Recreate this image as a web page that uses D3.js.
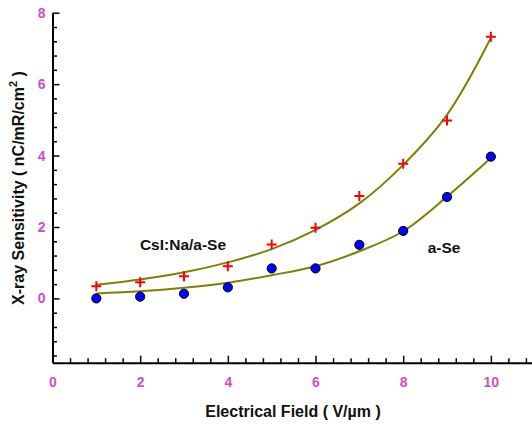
<!doctype html>
<html lang="en">
<head>
<meta charset="utf-8">
<title>X-ray Sensitivity vs Electrical Field</title>
<script src="https://cdn.jsdelivr.net/npm/d3@7"></script>
<style>
  body { margin: 0; background: #fff; }
  svg { display: block; font-family: "Liberation Sans", Arial, sans-serif; }
  .tick-label { fill: #cc4fc4; font-weight: bold; font-size: 14px; }
  .title { fill: #111; font-weight: bold; font-size: 16px; }
  .series { fill: #111; font-weight: bold; font-size: 15.5px; }
</style>
</head>
<body>
<svg id="chart" width="532" height="425"></svg>
<script>
// field values (V/um)
const field = [1, 2, 3, 4, 5, 6, 7, 8, 9, 10];
// measured sensitivity, nC/mR/cm2
const csiNaSe = [0.34, 0.45, 0.62, 0.90, 1.51, 1.98, 2.87, 3.77, 4.98, 7.33];
const aSe     = [0.00, 0.05, 0.13, 0.31, 0.84, 0.84, 1.50, 1.89, 2.84, 3.97];
// fitted curves at the same fields
const csiNaSeFit = [0.38, 0.53, 0.73, 1.01, 1.38, 1.92, 2.66, 3.74, 5.14, 7.29];
const aSeFit     = [0.14, 0.20, 0.30, 0.44, 0.65, 0.90, 1.32, 1.88, 2.85, 3.93];

const xTicks = [0, 2, 4, 6, 8, 10];
const yTicks = [0, 2, 4, 6, 8];

const svg = d3.select("#chart");

const x = d3.scaleLinear().domain([0, 10.95]).range([52.5, 532.5]);
const y = d3.scaleLinear().domain([-1.8, 8]).range([362.7, 12.7]);

// minor ticks every 0.4
const xMinor = d3.range(1, 28).map(i => +(i * 0.4).toFixed(1)).filter(v => v % 2 !== 0);
const yMinor = d3.range(-4, 21).map(i => +(i * 0.4).toFixed(1)).filter(v => v % 2 !== 0);

// x axis
const gx = svg.append("g").attr("transform", "translate(0," + y.range()[0] + ")");
gx.append("g")
  .call(d3.axisBottom(x).tickValues(xMinor).tickSize(-4.5).tickSizeOuter(0).tickFormat(""))
  .call(g => g.select(".domain").remove());
gx.append("g")
  .call(d3.axisBottom(x).tickValues(xTicks).tickSize(-7).tickSizeOuter(0).tickPadding(14))
  .call(g => g.select(".domain").attr("stroke-width", 2))
  .call(g => g.selectAll(".tick text").attr("class", "tick-label").attr("fill", null));
gx.selectAll(".tick line").attr("stroke", "#000").attr("stroke-width", 1.5);

// y axis
const gy = svg.append("g").attr("transform", "translate(" + x(0) + ",0)");
gy.append("g")
  .call(d3.axisLeft(y).tickValues(yMinor).tickSize(-4.5).tickSizeOuter(0).tickFormat(""))
  .call(g => g.select(".domain").remove());
gy.append("g")
  .call(d3.axisLeft(y).tickValues(yTicks).tickSize(-7).tickSizeOuter(0).tickPadding(7))
  .call(g => g.select(".domain").attr("stroke-width", 2))
  .call(g => g.selectAll(".tick text").attr("class", "tick-label").attr("fill", null));
gy.selectAll(".tick line").attr("stroke", "#000").attr("stroke-width", 1.5);

// axis titles
svg.append("text").attr("class", "title")
  .attr("x", 293).attr("y", 417).attr("text-anchor", "middle")
  .text("Electrical Field ( V/\u00b5m )");

const yt = svg.append("text").attr("class", "title")
  .attr("transform", "translate(24,188) rotate(-90)")
  .attr("text-anchor", "middle");
yt.append("tspan").text("X-ray Sensitivity ( nC/mR/cm");
yt.append("tspan").attr("dy", -7).attr("font-size", 11).text("2");
yt.append("tspan").attr("dy", 7).text(" )");

// fit curves
const line = d3.line()
  .x((d, i) => x(field[i]))
  .y(d => y(d))
  .curve(d3.curveCatmullRom);

[csiNaSeFit, aSeFit].forEach(s => {
  svg.append("path").datum(s)
    .attr("d", line)
    .attr("fill", "none")
    .attr("stroke", "#808000")
    .attr("stroke-width", 2);
});

// a-Se points
svg.append("g").selectAll("circle")
  .data(aSe)
  .join("circle")
  .attr("cx", (d, i) => x(field[i]))
  .attr("cy", d => y(d))
  .attr("r", 4.6)
  .attr("fill", "#0000ff")
  .attr("stroke", "#000")
  .attr("stroke-width", 1);

// CsI:Na/a-Se points
svg.append("g").selectAll("path")
  .data(csiNaSe)
  .join("path")
  .attr("transform", (d, i) => "translate(" + x(field[i]) + "," + y(d) + ")")
  .attr("d", "M-5,0H5M0,-5V5")
  .attr("stroke", "#ff0000")
  .attr("stroke-width", 2)
  .attr("fill", "none");

// series labels
svg.append("text").attr("class", "series")
  .attr("x", 183).attr("y", 250).attr("text-anchor", "middle")
  .text("CsI:Na/a-Se");
svg.append("text").attr("class", "series")
  .attr("x", 444).attr("y", 252.5).attr("text-anchor", "middle")
  .text("a-Se");
</script>
</body>
</html>
